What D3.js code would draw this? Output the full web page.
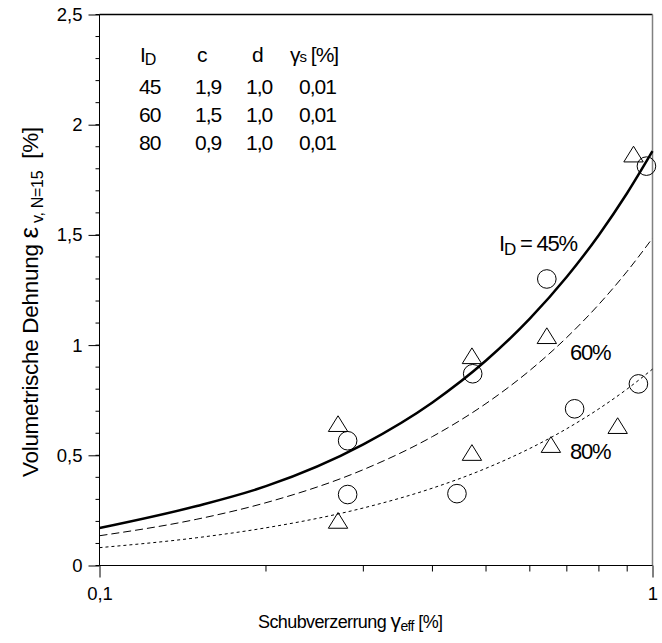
<!DOCTYPE html>
<html>
<head>
<meta charset="utf-8">
<script src="https://cdn.jsdelivr.net/npm/d3@7"></script>
<style>
  body { margin: 0; background: #fff; }
  svg text { font-family: "Liberation Sans", Arial, sans-serif; fill: #000; }
</style>
</head>
<body>
<div id="chart"></div>
<script>
// curve values (x = shear strain in %, y = vol. strain in %)
var curveX = [0.1, 0.15, 0.2, 0.3, 0.4, 0.5, 0.6, 0.7, 0.8, 0.9, 1.0]
var curve45 = [0.17, 0.27, 0.36, 0.55, 0.74, 0.93, 1.12, 1.31, 1.50, 1.69, 1.88]
var curve60 = [0.135, 0.21, 0.285, 0.435, 0.585, 0.735, 0.885, 1.035, 1.185, 1.335, 1.485]
var curve80 = [0.081, 0.126, 0.171, 0.261, 0.351, 0.441, 0.531, 0.621, 0.711, 0.801, 0.891]

// measured points
var circleX = [0.281, 0.281, 0.443, 0.473, 0.644, 0.723, 0.943, 0.975]
var circleY = [0.566, 0.322, 0.326, 0.870, 1.30, 0.711, 0.824, 1.812]
var triangleX = [0.270, 0.270, 0.4715, 0.4715, 0.644, 0.655, 0.865, 0.924]
var triangleY = [0.643, 0.204, 0.512, 0.951, 1.042, 0.548, 0.634, 1.866]

// parameter table
var tableID = ["45", "60", "80"]
var tableC = ["1,9", "1,5", "0,9"]
var tableD = ["1,0", "1,0", "1,0"]
var tableGs = ["0,01", "0,01", "0,01"]

var yTicks = [0, 0.5, 1, 1.5, 2, 2.5]
var yTickLabels = ["0", "0,5", "1", "1,5", "2", "2,5"]
var xTicks = [0.1, 1]
var xTickLabels = ["0,1", "1"]
var xMinor = [0.2, 0.3, 0.4, 0.5, 0.6, 0.7, 0.8, 0.9]

var width = 662, height = 643
var margin = {top: 14.5, right: 9.5, bottom: 77.5, left: 99.5}

var svg = d3.select("#chart").append("svg")
    .attr("width", width)
    .attr("height", height)

var x = d3.scaleLog()
    .domain([0.1, 1])
    .range([margin.left, width - margin.right])

var y = d3.scaleLinear()
    .domain([0, 2.5])
    .range([height - margin.bottom, margin.top])

// frame: top black, right grey
svg.append("line")
    .attr("x1", x(0.1)).attr("x2", x(1))
    .attr("y1", y(2.5)).attr("y2", y(2.5))
    .style("stroke", "#000").style("stroke-width", 1.5)
svg.append("line")
    .attr("x1", x(1)).attr("x2", x(1))
    .attr("y1", y(2.5)).attr("y2", y(0))
    .style("stroke", "#808080").style("stroke-width", 1.5)

// y axis
var yAxis = d3.axisLeft(y)
    .tickValues(yTicks)
    .tickSize(11)
    .tickPadding(6)
    .tickFormat(function(d, i) { return yTickLabels[i] })
var gy = svg.append("g")
    .attr("transform", "translate(" + margin.left + ",0)")
    .call(yAxis)
gy.select(".domain").attr("d", "M0," + y(0) + "V" + y(2.5)).style("stroke", "#000")
gy.selectAll("text").style("font-size", "18.5px")
  .style("font-family", "'Liberation Sans', Arial, sans-serif")

var yMinor = d3.range(0, 26).map(function(d) { return d / 10 })
svg.append("g").selectAll("line")
    .data(yMinor).enter().append("line")
    .attr("x1", margin.left - 4).attr("x2", margin.left)
    .attr("y1", function(d) { return y(d) })
    .attr("y2", function(d) { return y(d) })
    .style("stroke", "#000")

// x axis
var xAxis = d3.axisBottom(x)
    .tickValues(xTicks)
    .tickSize(12)
    .tickPadding(9)
    .tickFormat(function(d, i) { return xTickLabels[i] })
var gx = svg.append("g")
    .attr("transform", "translate(0," + y(0) + ")")
    .call(xAxis)
gx.select(".domain").attr("d", "M" + x(0.1) + ",0H" + x(1)).style("stroke", "#000")
gx.selectAll("text").style("font-size", "18.5px")
  .style("font-family", "'Liberation Sans', Arial, sans-serif")

svg.append("g").selectAll("line")
    .data(xMinor).enter().append("line")
    .attr("x1", function(d) { return x(d) })
    .attr("x2", function(d) { return x(d) })
    .attr("y1", y(0)).attr("y2", y(0) + 6)
    .style("stroke", "#000")

// curves
var line = d3.line()
    .x(function(d) { return x(d[0]) })
    .y(function(d) { return y(d[1]) })
    .curve(d3.curveMonotoneX)

function pairs(ys) { return curveX.map(function(v, i) { return [v, ys[i]] }) }

svg.append("path").datum(pairs(curve45))
    .attr("d", line)
    .style("fill", "none").style("stroke", "#000").style("stroke-width", 2.5)
svg.append("path").datum(pairs(curve60))
    .attr("d", line)
    .style("fill", "none").style("stroke", "#000").style("stroke-width", 1)
    .style("stroke-dasharray", "8,4")
svg.append("path").datum(pairs(curve80))
    .attr("d", line)
    .style("fill", "none").style("stroke", "#000").style("stroke-width", 1)
    .style("stroke-dasharray", "3,3")

// markers
svg.append("g").selectAll("circle")
    .data(circleX).enter().append("circle")
    .attr("cx", function(d) { return x(d) })
    .attr("cy", function(d, i) { return y(circleY[i]) })
    .attr("r", 9.3)
    .style("fill", "none").style("stroke", "#000").style("stroke-width", 1)

svg.append("g").selectAll("path")
    .data(triangleX).enter().append("path")
    .attr("d", "M0,-8L9.7,7.7L-9.7,7.7Z")
    .attr("transform", function(d, i) { return "translate(" + x(d) + "," + y(triangleY[i]) + ")" })
    .style("fill", "none").style("stroke", "#000").style("stroke-width", 1)

// parameter table
var tbl = svg.append("g").style("font-size", "21px").style("letter-spacing", "-1px")
var colX = [139, 195, 246, 299]
var h = tbl.append("text").attr("x", colX[0] + 1).attr("y", 62)
h.append("tspan").text("I")
h.append("tspan").attr("dy", 3).style("font-size", "16px").text("D")
tbl.append("text").attr("x", 197).attr("y", 62).text("c")
tbl.append("text").attr("x", 252).attr("y", 62).text("d")
var hg = tbl.append("text").attr("x", 290).attr("y", 62)
hg.append("tspan").text("γ")
hg.append("tspan").attr("dy", 0).style("font-size", "15px").text("s")
hg.append("tspan").attr("dy", 0).text(" [%]")
var cols = [tableID, tableC, tableD, tableGs]
cols.forEach(function(col, c) {
  tbl.selectAll(".col" + c)
    .data(col).enter().append("text")
    .attr("x", colX[c])
    .attr("y", function(d, i) { return 94 + i * 28 })
    .text(function(d) { return d })
})

// curve labels
var lab = svg.append("g").style("font-size", "22px").style("letter-spacing", "-1.2px")
var l45 = lab.append("text").attr("x", 499).attr("y", 251)
l45.append("tspan").text("I")
l45.append("tspan").attr("dy", 4).style("font-size", "17px").text("D")
l45.append("tspan").attr("dy", -4).text(" = 45%")
lab.append("text").attr("x", 570).attr("y", 360).text("60%")
lab.append("text").attr("x", 570).attr("y", 459).text("80%")

// axis titles
var xt = svg.append("text").attr("x", 258).attr("y", 628)
    .style("font-size", "18px").style("letter-spacing", "-0.6px")
xt.append("tspan").text("Schubverzerrung ")
xt.append("tspan").style("font-size", "21px").text("γ")
xt.append("tspan").attr("dy", 3).style("font-size", "14px").text("eff")
xt.append("tspan").attr("dy", -3).text("  [%]")

var yt = svg.append("text")
    .attr("transform", "translate(38,477) rotate(-90)")
    .style("font-size", "22.5px").style("letter-spacing", "-0.3px")
    .attr("xml:space", "preserve")
yt.append("tspan").text("Volumetrische Dehnung ")
yt.append("tspan").style("font-size", "26px").text("ε")
yt.append("tspan").attr("dy", 5).style("font-size", "16px").text(" v, N=15")
yt.append("tspan").attr("dy", -5).text("  [%]")
</script>
</body>
</html>
